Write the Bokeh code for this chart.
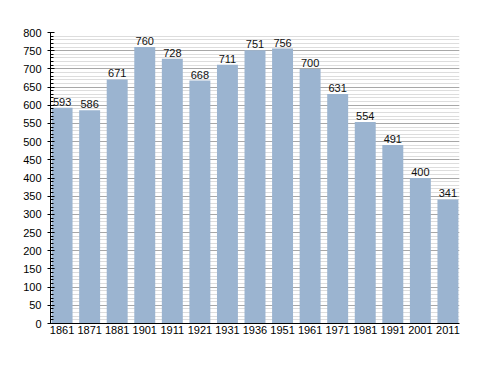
from bokeh.plotting import figure
from bokeh.models import Range1d, FixedTicker, SingleIntervalTicker, ColumnDataSource, LabelSet
from bokeh.core.properties import value
from bokeh.embed import file_html
from bokeh.resources import INLINE

years = ["1861", "1871", "1881", "1901", "1911", "1921", "1931", "1936", "1951",
         "1961", "1971", "1981", "1991", "2001", "2011"]
population = [593, 586, 671, 760, 728, 668, 711, 751, 756, 700, 631, 554, 491, 400, 341]

xs = list(range(len(years)))
src = ColumnDataSource(dict(x=xs, y=population, lab=[str(v) for v in population]))

p = figure(width=478, height=363, output_backend="svg", toolbar_location=None,
           x_range=Range1d(-0.42, len(years) - 1 + 0.42), y_range=Range1d(0, 800),
           min_border_left=50, min_border_right=19, min_border_top=32, min_border_bottom=40)
p.outline_line_color = None
p.background_fill_color = "white"

p.vbar(x="x", top="y", width=0.76, source=src, fill_color="#9bb4d0", line_color=None)

labels = LabelSet(x="x", y="y", text="lab", source=src, text_align="center",
                  text_baseline="bottom", y_offset=2, text_font_size="11px",
                  text_font=value("Liberation Sans"), text_color="#111111")
p.add_layout(labels)

p.yaxis.ticker = SingleIntervalTicker(interval=50, num_minor_ticks=5)
p.xaxis.ticker = FixedTicker(ticks=xs)
p.xaxis.major_label_overrides = {i: y for i, y in enumerate(years)}

for ax in (p.xaxis, p.yaxis):
    ax.axis_line_color = "black"
    ax.major_label_text_font = "Liberation Sans"
    ax.major_label_text_font_size = "11px"
    ax.major_label_text_color = "black"

p.xaxis.major_tick_line_color = None
p.xaxis.minor_tick_line_color = None
p.xaxis.major_tick_in = 0
p.xaxis.major_tick_out = 0
p.xaxis.minor_tick_out = 0
p.xaxis.major_label_standoff = 2
p.yaxis.major_tick_in = 4
p.yaxis.major_tick_out = 3
p.yaxis.minor_tick_in = 3
p.yaxis.minor_tick_out = 0
p.yaxis.major_label_standoff = 6

p.xgrid.grid_line_color = None
p.ygrid.grid_line_color = "#a8a8a8"
p.ygrid.minor_grid_line_color = "#dddddd"
p.ygrid.level = "underlay"

open("out.html", "w").write(file_html(p, INLINE))
